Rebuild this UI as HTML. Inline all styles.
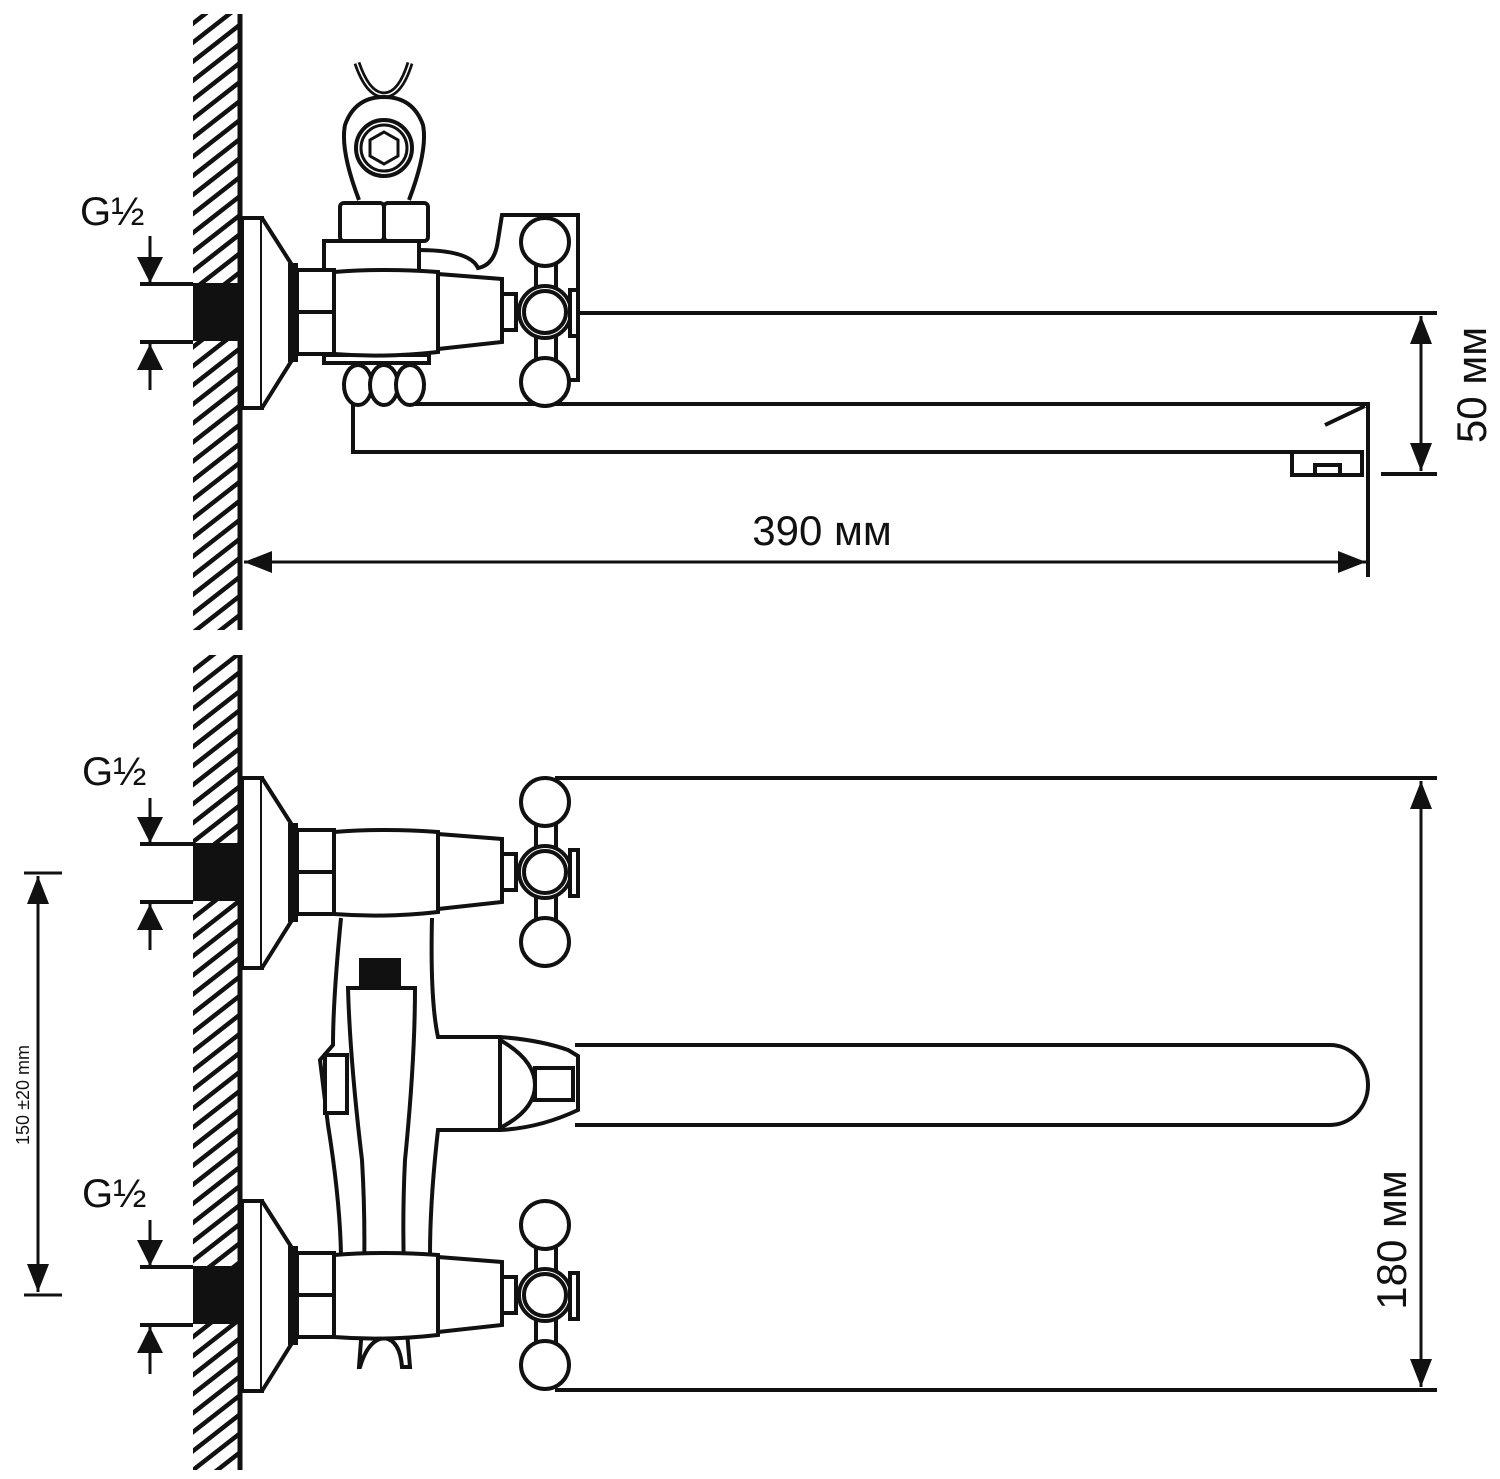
<!DOCTYPE html>
<html><head><meta charset="utf-8"><style>
html,body{margin:0;padding:0;background:#fff}
svg{display:block}
text{font-family:"Liberation Sans",sans-serif;fill:#111}
</style></head><body>
<svg width="1500" height="1479" viewBox="0 0 1500 1479" xmlns="http://www.w3.org/2000/svg">
<defs>
<pattern id="hatch" patternUnits="userSpaceOnUse" width="20" height="15" patternTransform="rotate(-38)">
<rect width="20" height="4.5" y="0" fill="#111"/>
</pattern>
<marker id="ah" viewBox="0 0 10 10" refX="10" refY="5" markerWidth="28" markerHeight="22" markerUnits="userSpaceOnUse" orient="auto-start-reverse" preserveAspectRatio="none">
<path d="M0,0 L10,5 L0,10 z" fill="#111"/>
</marker>
<marker id="as" viewBox="0 0 10 10" refX="10" refY="5" markerWidth="26" markerHeight="26" markerUnits="userSpaceOnUse" orient="auto-start-reverse" preserveAspectRatio="none">
<path d="M0,0 L10,5 L0,10 z" fill="#111"/>
</marker>
<g id="valve" fill="#fff" stroke="#111" stroke-width="4">
<rect x="193" y="-29" width="47" height="58" fill="#111" stroke="none"/>
<line x1="140" y1="-28" x2="193" y2="-28"/>
<line x1="140" y1="30" x2="193" y2="30"/>
<rect x="242" y="-94" width="20" height="190"/>
<path d="M262,-94 L292,-47 L292,48 L262,96"/>
<rect x="290" y="-47" width="6" height="95" fill="#111"/>
<rect x="297" y="-42" width="37" height="84"/>
<line x1="297" y1="0" x2="334" y2="0"/>
<path d="M334,-40 Q385,-44 438,-40 L438,40 Q385,46 334,42 Z"/>
<path d="M438,-38 L502,-33 L502,30 L438,37 Z"/>
<rect x="502" y="-18" width="14" height="36"/>
<rect x="536" y="-50" width="20" height="100"/>
<circle cx="545" cy="-70" r="24"/>
<circle cx="545" cy="70" r="24"/>
<circle cx="545" cy="0" r="26"/>
<circle cx="545" cy="0" r="21"/>
<rect x="570" y="-22" width="8" height="46"/>
</g>
</defs>

<rect x="193" y="14" width="45" height="616" fill="url(#hatch)"/>
<rect x="193" y="655" width="45" height="815" fill="url(#hatch)"/>
<line x1="240" y1="14" x2="240" y2="630" stroke="#111" stroke-width="5"/>
<line x1="240" y1="655" x2="240" y2="1470" stroke="#111" stroke-width="5"/>

<g fill="none" stroke="#111" stroke-width="4">
<line x1="580" y1="313" x2="1437" y2="313"/>
<path d="M410,404 L1368,404 L1368,577"/>
<path d="M1365,406 L1325,425"/>
<path d="M353,404 L353,452 L1292,452"/>
<rect x="1292" y="452" width="70" height="23" fill="#fff"/>
<rect x="1315" y="465" width="25" height="10"/>
<line x1="1381" y1="474" x2="1437" y2="474"/>
<line x1="1421" y1="316" x2="1421" y2="471" marker-start="url(#ah)" marker-end="url(#ah)" stroke-width="3"/>
<line x1="244" y1="562" x2="1366" y2="562" stroke-width="3" marker-start="url(#ah)" marker-end="url(#ah)"/>
<path d="M418,250 Q470,250 478,268 Q495,265 498,240 L502,215 L578,215 L578,380 L565,380"/>
<path d="M357,63 Q368,95 384,95 Q400,95 410,63" stroke-width="7"/>
<path d="M357,63 Q368,95 384,95 Q400,95 410,63" stroke="#fff" stroke-width="1.5"/>
<path d="M359,200 Q340,150 345,125 Q355,97 384,97 Q413,97 423,125 Q428,150 409,200" fill="#fff"/>
<circle cx="384" cy="148" r="28" fill="#fff"/>
<circle cx="384" cy="148" r="23" stroke-width="3"/>
<polygon points="384,132 398,140 398,156 384,164 370,156 370,140" stroke-width="3"/>
<rect x="340" y="203" width="44" height="38" fill="#fff" rx="4"/>
<rect x="384" y="203" width="44" height="38" fill="#fff" rx="4"/>
<rect x="324" y="241" width="95" height="31" fill="#fff"/>
<rect x="324" y="355" width="105" height="8" fill="#fff"/>
<ellipse cx="358" cy="385" rx="14" ry="20" fill="#fff"/>
<ellipse cx="384" cy="385" rx="14" ry="20" fill="#fff"/>
<ellipse cx="410" cy="385" rx="14" ry="20" fill="#fff"/>
</g>
<use href="#valve" transform="translate(0,312)"/>

<g fill="none" stroke="#111" stroke-width="4">
<line x1="555" y1="778" x2="1437" y2="778"/>
<line x1="555" y1="1390" x2="1437" y2="1390"/>
<line x1="1421" y1="781" x2="1421" y2="1387" stroke-width="3" marker-start="url(#ah)" marker-end="url(#ah)"/>
<path d="M575,1045 L1330,1045 A38,40 0 0 1 1330,1125 L575,1125"/>
<path d="M341,918 Q333,1000 333,1045 L320,1060 L328,1125 Q340,1200 341,1255" fill="#fff"/>
<path d="M432,918 Q430,1000 438,1037 L500,1037 Q540,1040 568,1050 L578,1056 L578,1110 Q540,1128 500,1130 L438,1130 Q430,1200 430,1255"/>
<line x1="500" y1="1037" x2="500" y2="1130"/>
<path d="M500,1040 Q535,1060 535,1085 Q535,1110 500,1128"/>
<rect x="535" y="1068" width="38" height="32" fill="#fff"/>
<rect x="325" y="1055" width="22" height="58" fill="#fff"/>
<path d="M348,988 L415,988 Q415,1060 405,1160 Q400,1260 410,1367 L402,1367 Q400,1340 384,1338 Q368,1340 360,1367 L359,1367 Q368,1260 362,1160 Q350,1060 348,988 Z" fill="#fff"/>
<rect x="359" y="958" width="42" height="28" fill="#111" stroke="none"/>
</g>
<use href="#valve" transform="translate(0,872)"/>
<use href="#valve" transform="translate(0,1295)"/>

<g stroke="#111" stroke-width="3" fill="none">
<line x1="150" y1="236" x2="150" y2="283" marker-end="url(#as)"/>
<line x1="150" y1="390" x2="150" y2="344" marker-end="url(#as)"/>
<line x1="150" y1="798" x2="150" y2="843" marker-end="url(#as)"/>
<line x1="150" y1="950" x2="150" y2="904" marker-end="url(#as)"/>
<line x1="150" y1="1220" x2="150" y2="1266" marker-end="url(#as)"/>
<line x1="150" y1="1374" x2="150" y2="1327" marker-end="url(#as)"/>
<line x1="24" y1="873" x2="62" y2="873"/>
<line x1="24" y1="1295" x2="62" y2="1295"/>
<line x1="38" y1="876" x2="38" y2="1292" marker-start="url(#ah)" marker-end="url(#ah)"/>
</g>

<text x="80" y="225" font-size="40">G½</text>
<text x="82" y="785" font-size="40">G½</text>
<text x="82" y="1207" font-size="40">G½</text>
<text x="822" y="545" font-size="42" text-anchor="middle">390 мм</text>
<text transform="translate(1486,385) rotate(-90)" font-size="42" text-anchor="middle">50 мм</text>
<text transform="translate(1406,1240) rotate(-90)" font-size="42" text-anchor="middle">180 мм</text>
<text transform="translate(29,1095) rotate(-90)" font-size="18" text-anchor="middle">150 ±20 mm</text>
</svg>
</body></html>
